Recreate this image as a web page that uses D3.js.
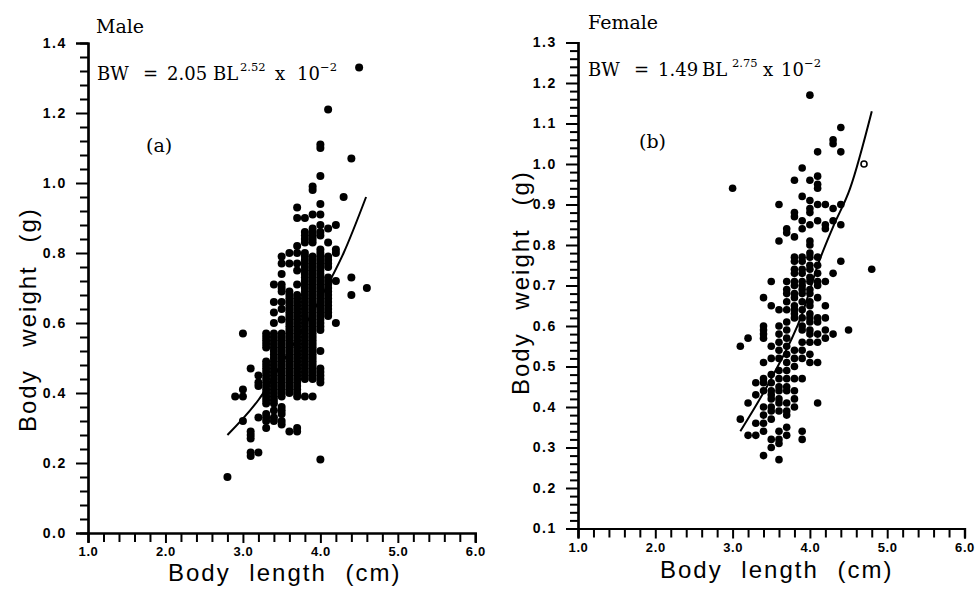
<!DOCTYPE html>
<html>
<head>
<meta charset="utf-8">
<script src="https://cdn.jsdelivr.net/npm/d3@7"></script>
<style>
  body { margin: 0; background: #fff; }
  svg { display: block; }
  .tick text { font-family: "Liberation Sans", Arial, sans-serif; font-weight: bold; fill: #000; }
  .serif { font-family: "DejaVu Serif", "Liberation Serif", serif; fill: #000; }
  .title { font-family: "Liberation Sans", Arial, sans-serif; fill: #000; }
</style>
</head>
<body>
<svg id="chart" width="979" height="590"></svg>
<script>
// ---- data ----
// (a) male: body length columns (cm) and body weights (g) in each column
const maleLengths = [2.8, 2.9, 3.0, 3.1, 3.2, 3.3, 3.4, 3.5, 3.6, 3.7, 3.8, 3.9, 4.0, 4.1, 4.2, 4.3, 4.4, 4.5, 4.6];
const maleWeights = [
  [0.16],
  [0.39],
  [0.57, 0.41, 0.39, 0.32],
  [0.47, 0.29, 0.28, 0.27, 0.23, 0.22],
  [0.45, 0.43, 0.42, 0.33, 0.23],
  [0.57, 0.56, 0.55, 0.54, 0.53, 0.49, 0.48, 0.47, 0.46, 0.45, 0.44, 0.43, 0.42, 0.41, 0.40, 0.39, 0.38, 0.37,
   0.34, 0.33, 0.32, 0.30],
  [0.71, 0.66, 0.63, 0.60, 0.57, 0.56, 0.55, 0.54, 0.53, 0.52, 0.51, 0.50, 0.49, 0.48, 0.47, 0.46, 0.45, 0.44,
   0.43, 0.42, 0.41, 0.40, 0.39, 0.38, 0.37, 0.35, 0.33, 0.32],
  [0.79, 0.77, 0.74, 0.71, 0.70, 0.69, 0.66, 0.64, 0.61, 0.57, 0.56, 0.55, 0.54, 0.53, 0.52, 0.51, 0.50, 0.49,
   0.48, 0.47, 0.46, 0.45, 0.44, 0.43, 0.42, 0.41, 0.40, 0.39, 0.36, 0.35, 0.34, 0.32, 0.31],
  [0.80, 0.77, 0.69, 0.68, 0.67, 0.66, 0.65, 0.64, 0.63, 0.62, 0.61, 0.60, 0.59, 0.58, 0.57, 0.56, 0.55, 0.54,
   0.53, 0.52, 0.51, 0.50, 0.49, 0.48, 0.47, 0.46, 0.45, 0.44, 0.43, 0.42, 0.41, 0.40, 0.29],
  [0.93, 0.90, 0.82, 0.80, 0.77, 0.75, 0.71, 0.68, 0.67, 0.66, 0.65, 0.64, 0.63, 0.62, 0.61, 0.60, 0.59, 0.58,
   0.57, 0.56, 0.55, 0.54, 0.53, 0.52, 0.51, 0.50, 0.49, 0.48, 0.47, 0.46, 0.45, 0.44, 0.43, 0.42, 0.41, 0.40,
   0.39, 0.30, 0.29],
  [0.90, 0.86, 0.85, 0.84, 0.83, 0.80, 0.79, 0.78, 0.77, 0.76, 0.75, 0.74, 0.73, 0.72, 0.71, 0.70, 0.69, 0.68,
   0.67, 0.66, 0.65, 0.64, 0.63, 0.62, 0.61, 0.60, 0.59, 0.58, 0.57, 0.56, 0.55, 0.54, 0.53, 0.52, 0.51, 0.50,
   0.49, 0.48, 0.47, 0.46, 0.45, 0.44, 0.39],
  [0.99, 0.98, 0.91, 0.87, 0.86, 0.85, 0.84, 0.83, 0.79, 0.78, 0.77, 0.76, 0.75, 0.74, 0.73, 0.72, 0.71, 0.70,
   0.69, 0.68, 0.67, 0.66, 0.65, 0.64, 0.63, 0.62, 0.61, 0.60, 0.59, 0.58, 0.57, 0.56, 0.55, 0.54, 0.53, 0.52,
   0.51, 0.50, 0.49, 0.48, 0.47, 0.46, 0.45, 0.44, 0.39],
  [1.11, 1.10, 1.02, 0.94, 0.91, 0.88, 0.86, 0.85, 0.81, 0.80, 0.79, 0.78, 0.77, 0.76, 0.75, 0.74, 0.73, 0.72,
   0.71, 0.70, 0.69, 0.68, 0.67, 0.66, 0.65, 0.64, 0.63, 0.62, 0.61, 0.60, 0.59, 0.58, 0.52, 0.47, 0.46, 0.45,
   0.44, 0.43, 0.21],
  [1.21, 0.87, 0.83, 0.79, 0.78, 0.77, 0.76, 0.73, 0.72, 0.71, 0.70, 0.69, 0.68, 0.67, 0.66, 0.65, 0.64, 0.63, 0.62],
  [0.88, 0.81, 0.80, 0.72, 0.60],
  [0.96],
  [1.07, 0.73, 0.68],
  [1.33],
  [0.70]
];
// fitted curve BW = 2.05 BL^2.52 x 10^-2
const maleFitLength = [2.8, 3.2, 3.6, 4.0, 4.3, 4.59];
const maleFitWeight = [0.28, 0.38, 0.52, 0.67, 0.80, 0.96];

// (b) female
const femaleLengths = [3.0, 3.1, 3.2, 3.3, 3.4, 3.5, 3.6, 3.7, 3.8, 3.9, 4.0, 4.1, 4.2, 4.3, 4.4, 4.5, 4.8];
const femaleWeights = [
  [0.94],
  [0.55, 0.37],
  [0.57, 0.41, 0.33],
  [0.46, 0.43, 0.36, 0.33],
  [0.67, 0.60, 0.59, 0.58, 0.57, 0.51, 0.47, 0.46, 0.44, 0.40, 0.38, 0.36, 0.34, 0.28],
  [0.71, 0.65, 0.55, 0.52, 0.48, 0.46, 0.44, 0.43, 0.42, 0.40, 0.39, 0.37, 0.32, 0.30],
  [0.90, 0.81, 0.64, 0.60, 0.58, 0.56, 0.54, 0.52, 0.49, 0.47, 0.45, 0.44, 0.42, 0.41, 0.39, 0.34, 0.32, 0.31, 0.27],
  [0.84, 0.83, 0.71, 0.69, 0.68, 0.66, 0.64, 0.61, 0.59, 0.57, 0.55, 0.53, 0.51, 0.49, 0.47, 0.45, 0.44, 0.41,
   0.39, 0.38, 0.35, 0.33],
  [0.96, 0.88, 0.87, 0.82, 0.77, 0.76, 0.74, 0.73, 0.71, 0.70, 0.68, 0.67, 0.65, 0.64, 0.63, 0.62, 0.54, 0.52,
   0.50, 0.47, 0.44, 0.42, 0.40],
  [0.99, 0.92, 0.86, 0.84, 0.77, 0.76, 0.74, 0.73, 0.71, 0.70, 0.69, 0.68, 0.66, 0.64, 0.62, 0.60, 0.59, 0.56,
   0.54, 0.52, 0.47, 0.34, 0.32],
  [1.17, 0.96, 0.91, 0.89, 0.88, 0.85, 0.81, 0.80, 0.78, 0.77, 0.75, 0.74, 0.72, 0.71, 0.69, 0.68, 0.66, 0.65,
   0.63, 0.62, 0.61, 0.59, 0.58, 0.56, 0.53, 0.51],
  [1.03, 0.97, 0.95, 0.94, 0.90, 0.86, 0.77, 0.75, 0.73, 0.71, 0.70, 0.67, 0.62, 0.61, 0.58, 0.56, 0.51, 0.41],
  [0.90, 0.85, 0.84, 0.71, 0.65, 0.62, 0.59, 0.57],
  [1.06, 1.05, 0.89, 0.86, 0.73, 0.58],
  [1.09, 1.03, 0.90, 0.85, 0.76],
  [0.59],
  [0.74]
];
// point printed as an open symbol
const femaleOpenLength = [4.7];
const femaleOpenWeight = [1.00];
// fitted curve BW = 1.49 BL^2.75 x 10^-2
const femaleFitLength = [3.1, 3.5, 3.9, 4.12, 4.3, 4.52, 4.8];
const femaleFitWeight = [0.34, 0.47, 0.63, 0.76, 0.845, 0.94, 1.13];

const lengthMajor = [1, 2, 3, 4, 5, 6];
const lengthMinor = [1.2, 1.4, 1.6, 1.8, 2.2, 2.4, 2.6, 2.8, 3.2, 3.4, 3.6, 3.8, 4.2, 4.4, 4.6, 4.8, 5.2, 5.4, 5.6, 5.8];
const maleYMajor = [0, 0.2, 0.4, 0.6, 0.8, 1.0, 1.2, 1.4];
const maleYMinor = [0.04, 0.08, 0.12, 0.16, 0.24, 0.28, 0.32, 0.36, 0.44, 0.48, 0.52, 0.56, 0.64, 0.68, 0.72, 0.76,
                    0.84, 0.88, 0.92, 0.96, 1.04, 1.08, 1.12, 1.16, 1.24, 1.28, 1.32, 1.36];
const femaleYMajor = [0.1, 0.2, 0.3, 0.4, 0.5, 0.6, 0.7, 0.8, 0.9, 1.0, 1.1, 1.2, 1.3];
const femaleYMinor = [0.12, 0.14, 0.16, 0.18, 0.22, 0.24, 0.26, 0.28, 0.32, 0.34, 0.36, 0.38, 0.42, 0.44, 0.46, 0.48,
                      0.52, 0.54, 0.56, 0.58, 0.62, 0.64, 0.66, 0.68, 0.72, 0.74, 0.76, 0.78, 0.82, 0.84, 0.86, 0.88,
                      0.92, 0.94, 0.96, 0.98, 1.02, 1.04, 1.06, 1.08, 1.12, 1.14, 1.16, 1.18, 1.22, 1.24, 1.26, 1.28];

const svg = d3.select("#chart");

function drawPanel(p) {
  const x = d3.scaleLinear().domain([1, 6]).range([p.left, p.right]);
  const y = d3.scaleLinear().domain(p.yDomain).range([p.bottom, p.top]);

  // minor ticks first, then the labelled axes on top
  svg.append("g").attr("transform", `translate(${p.left},0)`)
    .call(d3.axisLeft(y).tickValues(p.yMinor).tickSize(8).tickFormat(""));
  svg.append("g").attr("transform", `translate(0,${p.bottom})`)
    .call(d3.axisBottom(x).tickValues(lengthMinor).tickSize(9).tickFormat(""));

  const yAxis = svg.append("g").attr("transform", `translate(${p.left},0)`)
    .call(d3.axisLeft(y).tickValues(p.yMajor).tickSize(12).tickPadding(9).tickFormat(d3.format(".1f")));
  yAxis.selectAll("text").style("font-size", "14px").style("letter-spacing", "1.6px");

  const xAxis = svg.append("g").attr("transform", `translate(0,${p.bottom})`)
    .call(d3.axisBottom(x).tickValues(lengthMajor).tickSize(10).tickPadding(4).tickFormat(d3.format(".1f")));
  xAxis.selectAll("text").style("font-size", "13px").style("letter-spacing", "0.6px");

  svg.selectAll(".tick line").attr("stroke-width", 2);
  svg.selectAll(".domain").attr("stroke-width", 2.2);

  // scatter
  const pts = p.lengths.flatMap((len, i) => p.weights[i].map(w => ({ len, w })));
  svg.append("g").selectAll("circle")
    .data(pts)
    .enter()
    .append("circle")
    .attr("cx", d => x(d.len))
    .attr("cy", d => y(d.w))
    .attr("r", p.r);

  if (p.openLength) {
    svg.append("g").selectAll("circle")
      .data(p.openLength.map((len, i) => ({ len, w: p.openWeight[i] })))
      .enter()
      .append("circle")
      .attr("cx", d => x(d.len))
      .attr("cy", d => y(d.w))
      .attr("r", 3)
      .attr("fill", "#fff")
      .attr("stroke", "#000")
      .attr("stroke-width", 1.6);
  }

  // fitted line
  const fit = p.fitLength.map((len, i) => [len, p.fitWeight[i]]);
  svg.append("path")
    .datum(fit)
    .attr("fill", "none")
    .attr("stroke", "#000")
    .attr("stroke-width", 2)
    .attr("d", d3.line().x(d => x(d[0])).y(d => y(d[1])).curve(d3.curveMonotoneX));

  // axis titles
  svg.append("text").attr("class", "title")
    .attr("x", p.xTitle[0]).attr("y", p.xTitle[1])
    .style("font-size", "24px").style("letter-spacing", "2px").style("word-spacing", "10px")
    .text("Body length (cm)");
  svg.append("text").attr("class", "title")
    .attr("transform", `translate(${p.yTitle[0]},${p.yTitle[1]}) rotate(-90)`)
    .style("font-size", "24px").style("letter-spacing", "2px").style("word-spacing", "14px")
    .text("Body weight (g)");

  // sex label, equation and panel letter
  svg.append("text").attr("class", "serif")
    .attr("x", p.sex[0]).attr("y", p.sex[1]).style("font-size", "19px").text(p.sex[2]);

  const eq = p.eq;
  const big = [["BW", eq.x[0]], ["=", eq.x[1]], [eq.coef, eq.x[2]], ["BL", eq.x[3]], ["x", eq.x[5]], ["10", eq.x[6]]];
  big.forEach(([t, xx]) => svg.append("text").attr("class", "serif")
    .attr("x", xx).attr("y", eq.y).style("font-size", "18px").text(t));
  svg.append("text").attr("class", "serif")
    .attr("x", eq.x[4]).attr("y", eq.y - 9).style("font-size", "11.5px").text(eq.pow);
  svg.append("text").attr("class", "serif")
    .attr("x", eq.x[7]).attr("y", eq.y - 9).style("font-size", "11.5px").text("\u22122");

  svg.append("text").attr("class", "serif")
    .attr("x", p.letter[0]).attr("y", p.letter[1]).style("font-size", "19px").text(p.letter[2]);
}

drawPanel({
  left: 88, right: 475.3, top: 43, bottom: 533, yDomain: [0, 1.4], r: 4,
  yMajor: maleYMajor, yMinor: maleYMinor,
  lengths: maleLengths, weights: maleWeights,
  fitLength: maleFitLength, fitWeight: maleFitWeight,
  xTitle: [168, 581], yTitle: [36, 432],
  sex: [96, 33, "Male"],
  eq: { y: 80, coef: "2.05", pow: "2.52", x: [97, 143, 167, 213, 240, 275, 297, 320] },
  letter: [146, 152, "(a)"]
});

drawPanel({
  left: 578, right: 964.5, top: 42.5, bottom: 528.5, yDomain: [0.1, 1.3], r: 3.8,
  yMajor: femaleYMajor, yMinor: femaleYMinor,
  lengths: femaleLengths, weights: femaleWeights,
  openLength: femaleOpenLength, openWeight: femaleOpenWeight,
  fitLength: femaleFitLength, fitWeight: femaleFitWeight,
  xTitle: [660, 578], yTitle: [529, 395],
  sex: [588, 29, "Female"],
  eq: { y: 76, coef: "1.49", pow: "2.75", x: [588, 634, 658, 702, 732, 763, 781, 804] },
  letter: [639, 148, "(b)"]
});
</script>
</body>
</html>
